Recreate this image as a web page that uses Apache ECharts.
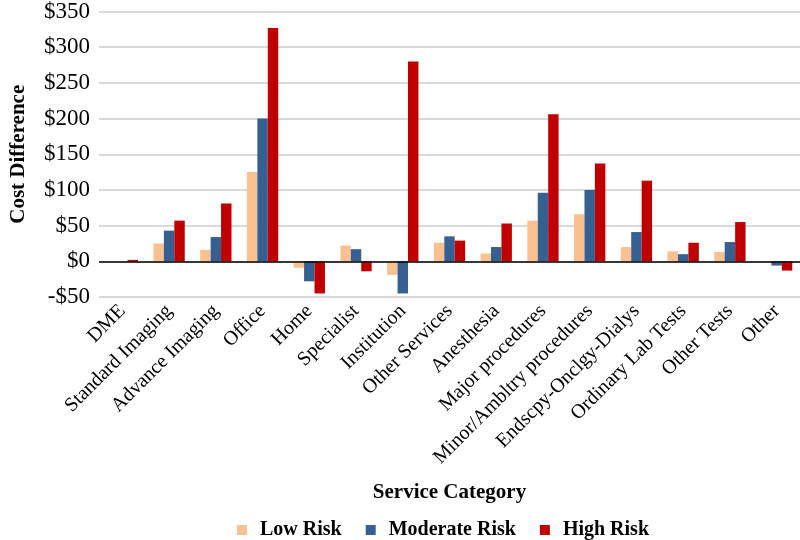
<!DOCTYPE html>
<html>
<head>
<meta charset="utf-8">
<script src="https://cdn.jsdelivr.net/npm/echarts@6/dist/echarts.min.js"></script>
<style>
  html, body { margin: 0; padding: 0; background: #fff; }
  #chart { width: 800px; height: 540px; }
</style>
</head>
<body>
<div id="chart"></div>
<script>
var categories = ['DME', 'Standard Imaging', 'Advance Imaging', 'Office', 'Home', 'Specialist',
    'Institution', 'Other Services', 'Anesthesia', 'Major procedures', 'Minor/Ambltry procedures',
    'Endscpy-Onclgy-Dialys', 'Ordinary Lab Tests', 'Other Tests', 'Other'];
var lowRisk = [0, 25, 16, 125, -9, 22, -19, 26, 11, 57, 66, 20, 14, 13, -1];
var moderateRisk = [0, 43, 34, 200, -28, 17, -45, 35, 20, 96, 100, 41, 10, 27, -6];
var highRisk = [2, 57, 81, 327, -45, -14, 280, 29, 53, 206, 137, 113, 26, 55, -13];

var serif = 'Liberation Serif';

var chart = echarts.init(document.getElementById('chart'));

chart.setOption({
    animation: false,
    color: ['#FAC090', '#376092', '#C00000'],
    textStyle: { fontFamily: serif, color: '#000' },
    grid: { left: 88, right: 0, top: 11, bottom: 243 },
    legend: {
        top: 515,
        left: 232,
        itemWidth: 10,
        itemHeight: 10,
        itemGap: 24,
        icon: 'rect',
        textStyle: { fontFamily: serif, fontSize: 20, fontWeight: 'bold', color: '#000', padding: [0, 0, 0, 8] },
        data: ['Low Risk', 'Moderate Risk', 'High Risk']
    },
    xAxis: {
        type: 'category',
        data: categories,
        name: 'Service Category',
        nameLocation: 'middle',
        nameGap: 185,
        nameTextStyle: { fontFamily: serif, fontSize: 21, fontWeight: 'bold', color: '#000' },
        axisLine: { show: false, onZero: false },
        axisTick: { show: false },
        axisLabel: { rotate: 45, margin: 11, fontFamily: serif, fontSize: 20, color: '#000', interval: 0 }
    },
    yAxis: {
        type: 'value',
        min: -50,
        max: 350,
        interval: 50,
        name: 'Cost Difference',
        nameLocation: 'middle',
        nameGap: 70,
        nameTextStyle: { fontFamily: serif, fontSize: 21, fontWeight: 'bold', color: '#000' },
        axisLine: { show: false },
        axisTick: { show: false },
        axisLabel: {
            margin: 9,
            fontFamily: serif,
            fontSize: 23,
            color: '#000',
            formatter: function(v) {
                return v < 0 ? '-$' + Math.abs(v) : '$' + v;
            }
        },
        splitLine: { lineStyle: { color: '#d9d9d9', width: 2 } }
    },
    series: [{
        name: 'Low Risk',
        type: 'bar',
        data: lowRisk,
        barGap: '0%',
        barCategoryGap: '33%',
        markLine: {
            silent: true,
            symbol: 'none',
            label: { show: false },
            lineStyle: { color: '#000', width: 1.5, type: 'solid' },
            data: [{ yAxis: 0 }]
        }
    }, {
        name: 'Moderate Risk',
        type: 'bar',
        data: moderateRisk,
        barGap: '0%',
        barCategoryGap: '33%'
    }, {
        name: 'High Risk',
        type: 'bar',
        data: highRisk,
        barGap: '0%',
        barCategoryGap: '33%'
    }]
});
</script>
</body>
</html>
